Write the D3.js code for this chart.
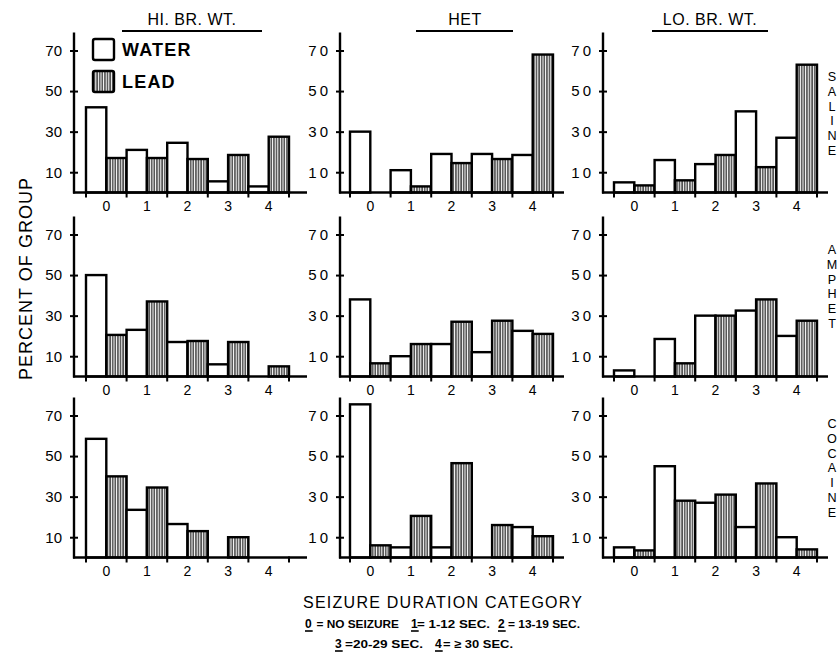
<!DOCTYPE html>
<html>
<head>
<meta charset="utf-8">
<script src="https://cdn.jsdelivr.net/npm/d3@7"></script>
<style>
  html, body { margin: 0; padding: 0; background: #fff; }
  svg { display: block; }
  text { font-family: "Liberation Sans", Arial, sans-serif; fill: #000; }
</style>
</head>
<body>
<svg id="chart" width="837" height="668"></svg>
<script>
// ---- DATA ----
const categories = ["0", "1", "2", "3", "4"];
const columnTitles = ["HI. BR. WT.", "HET", "LO. BR. WT."];
const rowLabels = ["SALINE", "AMPHET", "COCAINE"];
const yTickValues = [10, 30, 50, 70];
const seriesNames = ["WATER", "LEAD"];

// each array: [HI. BR. WT., HET, LO. BR. WT.], values per category 0..4 (percent of group)
const salineWater  = [[42, 21, 24.5, 5.5, 3],   [30, 11, 19, 19, 18.5],   [5, 16, 14, 40, 27]];
const salineLead   = [[17, 17, 16.5, 18.5, 27.5], [0, 3, 14.5, 16.5, 68],  [3.5, 6, 18.5, 12.5, 63]];
const amphetWater  = [[50, 23, 17, 6, 0],       [38, 10, 16, 12, 22.5],   [3, 18.5, 30, 32.5, 20]];
const amphetLead   = [[20.5, 37, 17.5, 17, 5],  [6.5, 16, 27, 27.5, 21],  [0, 6.5, 30, 38, 27.5]];
const cocaineWater = [[58.5, 23.5, 16.5, 0, 0], [75.5, 5, 5, 0, 15],      [5, 45, 27, 15, 10]];
const cocaineLead  = [[40, 34.5, 13, 10, 0],    [6, 20.5, 46.5, 16, 10.5], [3.5, 28, 31, 36.5, 4]];

const keyCodes = ["0", "1", "2", "3", "4"];
const keyTexts = ["= NO SEIZURE", "= 1-12 SEC.", "= 13-19 SEC.", "=20-29 SEC.", "= \u2265 30 SEC."];

const waterByRow = [salineWater, amphetWater, cocaineWater];
const leadByRow  = [salineLead, amphetLead, cocaineLead];

// ---- LAYOUT ----
const svg = d3.select("#chart");
const colAxisX = [74, 340, 603];
const colGroupStart = [86, 350, 614];
const groupW = 40.6;
const rowBase = [192.5, 376.5, 557.5];
const pxPer70 = 142;

// hatch pattern
const defs = svg.append("defs");
const pat = defs.append("pattern")
  .attr("id", "hatch").attr("patternUnits", "userSpaceOnUse")
  .attr("width", 2.6).attr("height", 10);
pat.append("rect").attr("width", 2.6).attr("height", 10).attr("fill", "#fff");
pat.append("line").attr("x1", 0.9).attr("x2", 0.9).attr("y1", 0).attr("y2", 10)
  .attr("stroke", "#000").attr("stroke-width", 1.1);

const fills = { WATER: "#fff", LEAD: "url(#hatch)" };

for (let r = 0; r < 3; r++) {
  for (let c = 0; c < 3; c++) {
    const base = rowBase[r];
    const ax = colAxisX[c];
    const g0 = colGroupStart[c];
    const g = svg.append("g");

    const y = d3.scaleLinear().domain([0, 70]).range([base, base - pxPer70]);
    const x = d3.scaleBand().domain(categories).range([g0, g0 + groupW * 5]).padding(0);
    const xs = d3.scaleBand().domain(seriesNames).range([0, x.bandwidth()]).padding(0);

    const rows = categories.map((cat, i) => ({
      cat, WATER: waterByRow[r][c][i], LEAD: leadByRow[r][c][i]
    }));

    // bars
    const bars = [];
    rows.forEach(d => seriesNames.forEach(s => { if (d[s] > 0) bars.push({ cat: d.cat, s, v: d[s] }); }));
    g.selectAll("rect.bar").data(bars).enter().append("rect")
      .attr("class", "bar")
      .attr("x", d => x(d.cat) + xs(d.s))
      .attr("width", xs.bandwidth())
      .attr("y", d => y(d.v))
      .attr("height", d => y(0) - y(d.v))
      .attr("fill", d => fills[d.s])
      .attr("stroke", "#000").attr("stroke-width", 2.4)
      .attr("stroke-linejoin", "miter");

    // y axis
    const yAxis = d3.axisLeft(y).tickValues(yTickValues).tickSize(4).tickPadding(8).tickSizeOuter(0);
    const ya = g.append("g").attr("transform", `translate(${ax},0)`).call(yAxis);
    ya.select(".domain").remove();
    ya.selectAll(".tick line").attr("x1", 4).attr("stroke-width", 2);
    ya.selectAll(".tick text")
      .attr("font-size", 15).attr("font-family", "Liberation Sans, Arial, sans-serif")
      .attr("letter-spacing", c === 0 ? 0 : 3).attr("dx", c === 0 ? 0 : 3);
    g.append("line").attr("x1", ax).attr("x2", ax)
      .attr("y1", base + 1).attr("y2", base - 160)
      .attr("stroke", "#000").attr("stroke-width", 2.4);

    // x axis (labels at band centres, ticks at band boundaries)
    const xAxis = d3.axisBottom(x).tickSize(0).tickPadding(9);
    const xa = g.append("g").attr("transform", `translate(0,${base})`).call(xAxis);
    xa.select(".domain").remove();
    xa.selectAll(".tick text").attr("font-size", 14)
      .attr("font-family", "Liberation Sans, Arial, sans-serif");
    const axEnd = g0 + groupW * 5 + (c === 0 ? 18 : 11);
    g.append("line").attr("x1", ax - 1).attr("x2", axEnd)
      .attr("y1", base).attr("y2", base).attr("stroke", "#000").attr("stroke-width", 2.6);
    const bounds = categories.map(k => x(k)).concat([x(categories[4]) + x.bandwidth()]);
    g.selectAll("line.xt").data(bounds).enter().append("line")
      .attr("x1", d => d).attr("x2", d => d)
      .attr("y1", base - 1).attr("y2", base + 5)
      .attr("stroke", "#000").attr("stroke-width", 2);
  }
}

// column titles with lines underneath
const titleCx = [192, 465, 710];
const lineSpan = [[122, 262], [416, 513], [652, 768]];
columnTitles.forEach((t, i) => {
  svg.append("text").attr("x", titleCx[i]).attr("y", 25)
    .attr("text-anchor", "middle").attr("font-size", 16).attr("letter-spacing", 0.5).text(t);
  svg.append("line").attr("x1", lineSpan[i][0]).attr("x2", lineSpan[i][1])
    .attr("y1", 31).attr("y2", 31).attr("stroke", "#000").attr("stroke-width", 2);
});

// row labels (vertical stacked letters)
const rowLabelTop = [81, 254, 428];
rowLabels.forEach((lab, i) => {
  lab.split("").forEach((ch, j) => {
    svg.append("text").attr("x", 832).attr("y", rowLabelTop[i] + j * 14.8)
      .attr("text-anchor", "middle").attr("font-size", 12.6).text(ch);
  });
});

// legend
const legend = [{ name: "WATER", y: 39 }, { name: "LEAD", y: 71 }];
legend.forEach(l => {
  svg.append("rect").attr("x", 93).attr("y", l.y).attr("width", 21).attr("height", 21)
    .attr("fill", fills[l.name]).attr("stroke", "#000").attr("stroke-width", 2.4).attr("rx", 2);
  svg.append("text").attr("x", 122).attr("y", l.y + 17)
    .attr("font-size", 18).attr("font-weight", "bold").attr("letter-spacing", 1.2).text(l.name);
});

// y axis title
svg.append("text")
  .attr("transform", "translate(32,279) rotate(-90)")
  .attr("text-anchor", "middle").attr("font-size", 18)
  .attr("textLength", 202).attr("lengthAdjust", "spacing")
  .text("PERCENT OF GROUP");

// x axis title
svg.append("text").attr("x", 303).attr("y", 608)
  .attr("font-size", 16).attr("textLength", 279).attr("lengthAdjust", "spacing")
  .text("SEIZURE DURATION CATEGORY");

// category key
const codeX = [305, 411, 498, 335, 435];
const restX = [316.5, 417, 508, 345, 443];
const restEnd = [399, 490, 580, 423, 513];
const keyY = [628, 628, 628, 648, 648];
keyCodes.forEach((k, i) => {
  const t = svg.append("text").attr("x", codeX[i]).attr("y", keyY[i])
    .attr("font-size", 12).attr("font-weight", "bold").text(k);
  const w = t.node().getComputedTextLength();
  svg.append("line").attr("x1", codeX[i]).attr("x2", codeX[i] + w + 1)
    .attr("y1", keyY[i] + 3).attr("y2", keyY[i] + 3)
    .attr("stroke", "#000").attr("stroke-width", 1.6);
  svg.append("text").attr("x", restX[i]).attr("y", keyY[i])
    .attr("font-size", 11.5).attr("font-weight", "bold")
    .attr("textLength", restEnd[i] - restX[i]).attr("lengthAdjust", "spacingAndGlyphs")
    .text(keyTexts[i]);
});
</script>
</body>
</html>
